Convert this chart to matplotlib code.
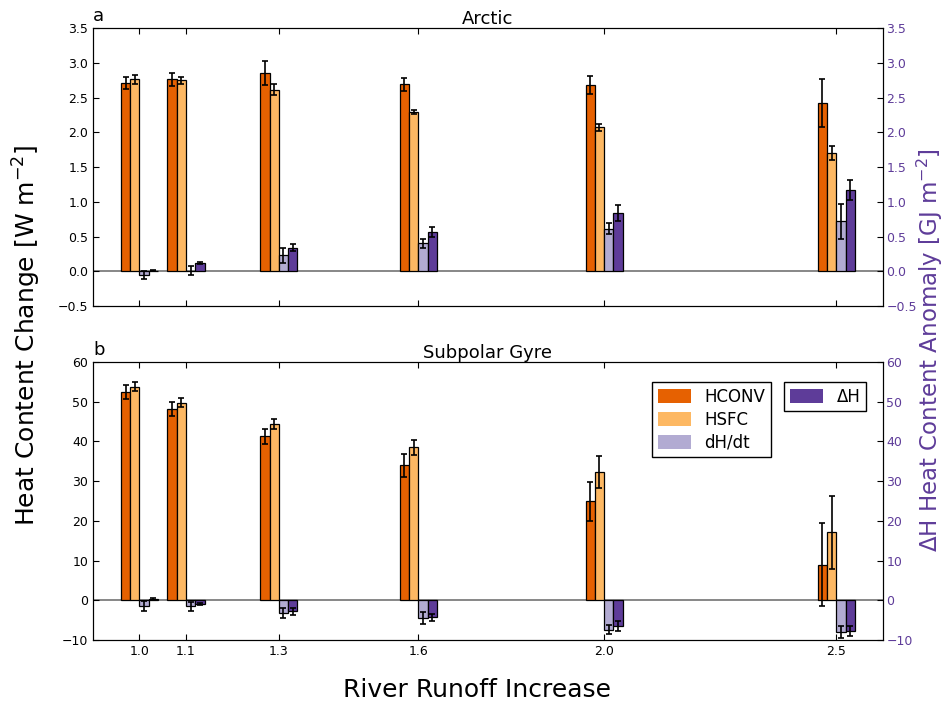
import numpy as np
import matplotlib.pyplot as plt

# river runoff scaling factor for each experiment
runoff = [1.0, 1.1, 1.3, 1.6, 2.0, 2.5]

# Arctic (W m-2, dH in GJ m-2)
arctic_hconv = [2.71, 2.76, 2.85, 2.69, 2.68, 2.42]
arctic_hconv_err = [0.08, 0.10, 0.17, 0.09, 0.13, 0.35]
arctic_hsfc = [2.76, 2.75, 2.61, 2.29, 2.07, 1.70]
arctic_hsfc_err = [0.06, 0.05, 0.08, 0.03, 0.05, 0.10]
arctic_dhdt = [-0.05, 0.01, 0.23, 0.40, 0.61, 0.72]
arctic_dhdt_err = [0.06, 0.06, 0.11, 0.07, 0.08, 0.25]
arctic_dh = [0.01, 0.12, 0.34, 0.57, 0.84, 1.17]
arctic_dh_err = [0.01, 0.01, 0.05, 0.07, 0.11, 0.14]

# Subpolar gyre
spg_hconv = [52.4, 48.2, 41.3, 34.0, 24.9, 9.0]
spg_hconv_err = [1.7, 1.75, 1.9, 2.85, 5.0, 10.4]
spg_hsfc = [53.8, 49.8, 44.4, 38.5, 32.3, 17.1]
spg_hsfc_err = [1.2, 1.2, 1.3, 1.8, 3.95, 9.2]
spg_dhdt = [-1.5, -1.5, -3.2, -4.5, -7.4, -7.9]
spg_dhdt_err = [1.3, 1.1, 1.2, 1.5, 1.2, 1.5]
spg_dh = [0.3, -1.0, -2.8, -4.3, -6.5, -7.8]
spg_dh_err = [0.3, 0.3, 0.8, 0.85, 1.3, 1.3]

c_hconv = '#e66101'
c_hsfc = '#fdb863'
c_dhdt = '#b2abd2'
c_dh = '#5e3c99'

plt.rcParams['xtick.direction'] = 'in'
plt.rcParams['ytick.direction'] = 'in'
plt.rcParams['xtick.top'] = True
plt.rcParams['xtick.major.size'] = 4
plt.rcParams['ytick.major.size'] = 4
plt.rcParams['xtick.labelsize'] = 9
plt.rcParams['ytick.labelsize'] = 9

fig = plt.figure(figsize=(9.46, 7.03), dpi=100)
ax1 = fig.add_axes([0.0983, 0.5647, 0.835, 0.3954])
ax2 = fig.add_axes([0.0983, 0.0896, 0.835, 0.3954])

x = np.array(runoff)
w = 0.02
bar_kw = dict(width=w, edgecolor='black', linewidth=0.9)
err_kw = dict(ecolor='black', capsize=2, elinewidth=1.2, capthick=1.2)


def panel(ax, hconv, hconv_e, hsfc, hsfc_e, dhdt, dhdt_e, dh, dh_e, ylim, yticks):
    ax.axhline(0, color='0.45', lw=1.2, zorder=0)
    b1 = ax.bar(x - 1.5 * w, hconv, yerr=hconv_e, color=c_hconv, error_kw=err_kw, **bar_kw)
    b2 = ax.bar(x - 0.5 * w, hsfc, yerr=hsfc_e, color=c_hsfc, error_kw=err_kw, **bar_kw)
    b3 = ax.bar(x + 0.5 * w, dhdt, yerr=dhdt_e, color=c_dhdt, error_kw=err_kw, **bar_kw)
    ax.set_xlim(0.9, 2.6)
    ax.set_ylim(ylim)
    ax.set_yticks(yticks)
    ax.set_xticks(runoff)
    ax.set_xticklabels(['%.1f' % r for r in runoff])
    # dH lives on its own axis (GJ m-2)
    axr = ax.twinx()
    b4 = axr.bar(x + 1.5 * w, dh, yerr=dh_e, color=c_dh, error_kw=err_kw, **bar_kw)
    axr.set_ylim(ylim)
    axr.set_yticks(yticks)
    axr.tick_params(axis='y', direction='in', labelcolor=c_dh, pad=2.5)
    return axr, (b1, b2, b3, b4)


ax1r, _ = panel(ax1, arctic_hconv, arctic_hconv_err, arctic_hsfc, arctic_hsfc_err,
                arctic_dhdt, arctic_dhdt_err, arctic_dh, arctic_dh_err,
                (-0.5, 3.5), np.arange(-0.5, 3.51, 0.5))
ax1.tick_params(axis='x', labelbottom=False)
ax1.set_title('Arctic', fontsize=13, pad=3)
ax1.text(0, 1.01, 'a', transform=ax1.transAxes, fontsize=13, ha='left', va='bottom')

ax2r, bars = panel(ax2, spg_hconv, spg_hconv_err, spg_hsfc, spg_hsfc_err,
                   spg_dhdt, spg_dhdt_err, spg_dh, spg_dh_err,
                   (-10, 60), np.arange(-10, 61, 10))
ax2.set_title('Subpolar Gyre', fontsize=13, pad=3)
ax2.text(0, 1.01, 'b', transform=ax2.transAxes, fontsize=13, ha='left', va='bottom')

leg_kw = dict(fontsize=12, fancybox=False, framealpha=1, edgecolor='black',
              loc='upper left', borderaxespad=0, handlelength=2.0, handleheight=0.9,
              labelspacing=0.3, borderpad=0.35)
leg1 = ax2r.legend(bars[:3], ['HCONV', 'HSFC', 'dH/dt'],
                   bbox_to_anchor=(0.7076, 0.929), **leg_kw)
leg1.get_frame().set_linewidth(1.0)
ax2r.add_artist(leg1)
leg2 = ax2r.legend([bars[3]], ['ΔH'], bbox_to_anchor=(0.8747, 0.929), **leg_kw)
leg2.get_frame().set_linewidth(1.0)
for leg in (leg1, leg2):
    for h in leg.legend_handles:
        h.set_edgecolor('none')

fig.text(0.0285, 0.523, r'Heat Content Change [W m$^{-2}$]', rotation=90,
         fontsize=18, ha='center', va='center')
fig.text(0.999, 0.502, r'ΔH Heat Content Anomaly [GJ m$^{-2}$]', rotation=90,
         fontsize=16.5, ha='right', va='center', color=c_dh)
fig.text(0.504, 0.0185, 'River Runoff Increase', fontsize=18, ha='center', va='center')

fig.savefig('out.png', dpi=100)
